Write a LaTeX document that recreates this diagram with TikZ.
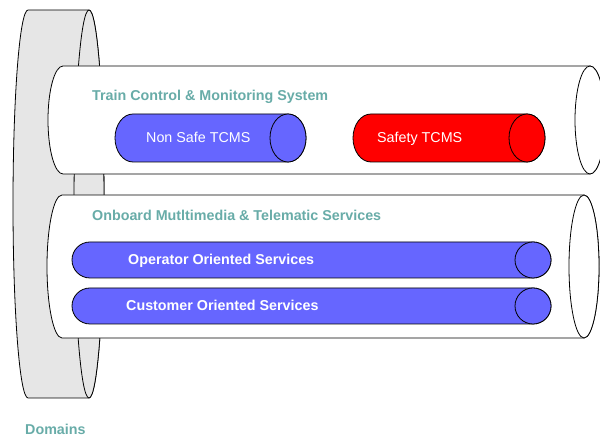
\documentclass[tikz,border=0pt]{standalone}
\usepackage{fontspec}
\setmainfont{Liberation Sans}
\usepackage{tikz}
\usetikzlibrary{calc}
\definecolor{domgray}{RGB}{230,230,230}
\definecolor{tcmsblue}{RGB}{102,102,255}
\definecolor{labelteal}{RGB}{104,172,168}
\tikzset{l/.style={font=\fontsize{14.3}{14.3}\selectfont\bfseries,text=labelteal,inner sep=0pt,anchor=base west}}
\tikzset{m/.style={font=\fontsize{14.3}{14.3}\selectfont,text=white,inner sep=0pt,anchor=base west}}
\tikzset{tubeline/.style={draw=black,line width=0.8pt}}

% #1 left x, #2 right x, #3 mid y, #4 x radius, #5 y radius, #6 fill
\newcommand{\tube}[6]{%
  \filldraw[tubeline,fill=#6] (#1,#3+#5) -- (#2,#3+#5)
    arc[start angle=90,end angle=-90,x radius=#4,y radius=#5] -- (#1,#3-#5)
    arc[start angle=270,end angle=90,x radius=#4,y radius=#5] -- cycle;
  \filldraw[tubeline,fill=#6] (#2,#3) ellipse[x radius=#4,y radius=#5];}

\begin{document}
\begin{tikzpicture}[x=1pt,y=1pt]
        \useasboundingbox (0,0) rectangle (600,438);
        \clip (0,0) rectangle (600,438);
        \tube{28}{89}{234}{15}{194}{domgray}
        \tube{63}{590}{318}{15}{54}{white}
        \tube{62}{584}{171.5}{15}{71.5}{white}
        \tube{133}{288}{300}{18}{24}{tcmsblue}
        \tube{371}{527}{300}{18}{24}{red}
        \tube{90}{533}{178}{18}{18}{tcmsblue}
        \tube{90}{533}{132}{18}{18}{tcmsblue}
        \node[l] (T) at (92,337.5) {Train Control \& Monitoring System};
        \node[m] (N) at (146,295) {Non Safe TCMS};
        \node[m] (S) at (377,295) {Safety TCMS};
        \node[l] (O) at (92,217) {Onboard Mutltimedia \& Telematic Services};
        \node[m,font=\fontsize{14.3}{14.3}\selectfont\bfseries] (P) at (128,173) {Operator Oriented Services};
        \node[m,font=\fontsize{14.3}{14.3}\selectfont\bfseries] (C) at (126,127.7) {Customer Oriented Services};
        \node[l] (D) at (25,3) {Domains};
      \end{tikzpicture}
\end{document}
